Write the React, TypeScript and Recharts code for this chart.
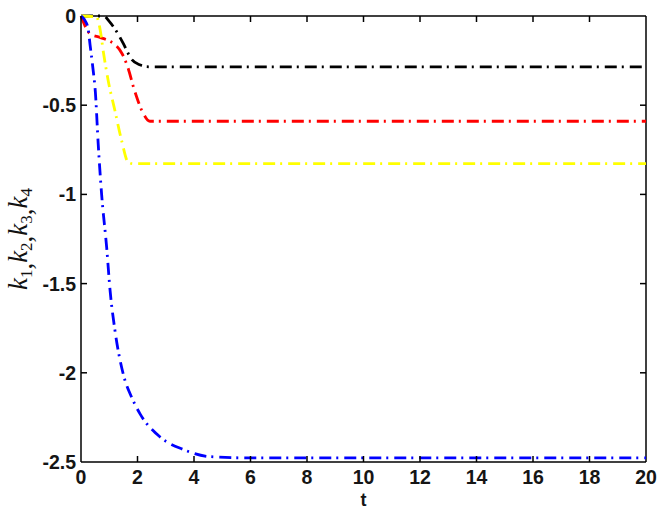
import { Line, LineChart, ReferenceLine, XAxis, YAxis } from "recharts";

const xTicks = [0, 2, 4, 6, 8, 10, 12, 14, 16, 18, 20];
const yTicks = [0, -0.5, -1, -1.5, -2, -2.5];

// k1 (blue)
const blueT = [0, 0.12, 0.25, 0.32, 0.42, 0.51, 0.61, 0.73, 0.91, 1.03, 1.2, 1.5, 1.8, 2.09, 2.8, 3.62, 4.57, 6, 20];
const blueK = [0, -0.02, -0.07, -0.16, -0.29, -0.43, -0.72, -1.0, -1.3, -1.54, -1.76, -2.01, -2.14, -2.23, -2.36, -2.43, -2.47, -2.477, -2.477];

// k2 (red)
const redT = [0, 0.32, 0.67, 1.0, 1.2, 1.45, 1.63, 1.9, 2.2, 2.44, 20];
const redK = [0, -0.1, -0.12, -0.14, -0.16, -0.21, -0.275, -0.42, -0.545, -0.59, -0.59];

// k3 (yellow)
const yellowT = [0, 0.55, 0.67, 0.8, 0.96, 1.2, 1.44, 1.67, 1.85, 20];
const yellowK = [0, -0.005, -0.07, -0.21, -0.36, -0.53, -0.7, -0.82, -0.828, -0.828];

// k4 (black)
const blackT = [0, 0.8, 1.0, 1.27, 1.5, 1.8, 2.1, 2.3, 2.5, 20];
const blackK = [0, 0, -0.03, -0.09, -0.155, -0.245, -0.275, -0.284, -0.285, -0.285];

const zip = (t: number[], k: number[]) => t.map((v, i) => ({ t: v, k: k[i] }));

const series = [
  { name: "k4", color: "#000000", data: zip(blackT, blackK) },
  { name: "k2", color: "#ff0000", data: zip(redT, redK) },
  { name: "k3", color: "#ffff00", data: zip(yellowT, yellowK) },
  { name: "k1", color: "#0000ff", data: zip(blueT, blueK) },
];

const W = 660;
const H = 509;
const M = { top: 16, right: 14, left: 0, bottom: 0 };
const PLOT_TOP = M.top;
const PLOT_RIGHT = W - M.right;

const tickFont = { fontFamily: "Liberation Sans", fontWeight: "bold", fontSize: 19.5, fill: "#151515" };
const frame = { stroke: "#000", strokeWidth: 1.5, fill: "none" };

// bottom labels + inward ticks on bottom and top edges
const BottomTick = (p: any) => {
  const v = p.payload.value;
  const edge = v === xTicks[0] || v === xTicks[xTicks.length - 1];
  return (
    <g>
      {!edge && <path d={`M${p.x},${p.y}V${p.y - 6}`} {...frame} />}
      {!edge && <path d={`M${p.x},${PLOT_TOP}V${PLOT_TOP + 6}`} {...frame} />}
      <text x={p.x} y={p.y + 22} textAnchor="middle" {...tickFont}>
        {v}
      </text>
    </g>
  );
};

// left labels + inward ticks on left and right edges
const LeftTick = (p: any) => {
  const v = p.payload.value;
  const edge = v === yTicks[0] || v === yTicks[yTicks.length - 1];
  return (
    <g>
      {!edge && <path d={`M${p.x},${p.y}H${p.x + 6}`} {...frame} />}
      {!edge && <path d={`M${PLOT_RIGHT},${p.y}H${PLOT_RIGHT - 6}`} {...frame} />}
      <text x={p.x - 5} y={p.y} dy="0.36em" textAnchor="end" {...tickFont}>
        {String(v)}
      </text>
    </g>
  );
};

const YLabel = (props: any) => {
  const vb = props.viewBox || {};
  const cx = 27;
  const cy = (vb.y ?? 16) + (vb.height ?? 446) / 2;
  const parts = ["1", "2", "3", "4"];
  return (
    <text
      x={cx}
      y={cy}
      transform={`rotate(-90, ${cx}, ${cy})`}
      textAnchor="middle"
      fontFamily="Liberation Serif"
      fontSize={27}
      fill="#111"
    >
      {parts.map((s, i) => (
        <tspan key={s}>
          <tspan fontStyle="italic" dy={i === 0 ? 0 : -5}>k</tspan>
          <tspan fontSize={17} dy={5}>{s}</tspan>
          {i < 3 && <tspan>,</tspan>}
        </tspan>
      ))}
    </text>
  );
};

const XLabel = (props: any) => {
  const vb = props.viewBox || {};
  const cx = (vb.x ?? 81) + (vb.width ?? 565) / 2;
  return (
    <text x={cx} y={506} textAnchor="middle" fontFamily="Liberation Sans" fontWeight="bold" fontSize={18} fill="#151515">
      t
    </text>
  );
};

export default function App() {
  return (
    <div style={{ position: "absolute", left: 0, top: 0, width: W, height: H, background: "#fff" }}>
      <LineChart width={W} height={H} margin={M}>
        <XAxis
          type="number"
          dataKey="t"
          domain={[0, 20]}
          ticks={xTicks}
          height={47}
          tickSize={0}
          tickMargin={0}
          tickLine={false}
          stroke="#000"
          strokeWidth={1.5}
          tick={BottomTick}
          label={{ content: XLabel }}
        />
        <YAxis
          type="number"
          domain={[-2.5, 0]}
          ticks={yTicks}
          width={81}
          tickSize={0}
          tickMargin={0}
          tickLine={false}
          stroke="#000"
          strokeWidth={1.5}
          tick={LeftTick}
          label={{ content: YLabel }}
        />
        <ReferenceLine y={0} stroke="#000" strokeWidth={1.5} />
        <ReferenceLine x={20} stroke="#000" strokeWidth={1.5} />
        {series.map((s) => (
          <Line
            key={s.name}
            data={s.data}
            dataKey="k"
            type="monotone"
            stroke={s.color}
            strokeWidth={2.8}
            strokeDasharray="12 5 2 6"
            dot={false}
            activeDot={false}
            isAnimationActive={false}
          />
        ))}
      </LineChart>
    </div>
  );
}
